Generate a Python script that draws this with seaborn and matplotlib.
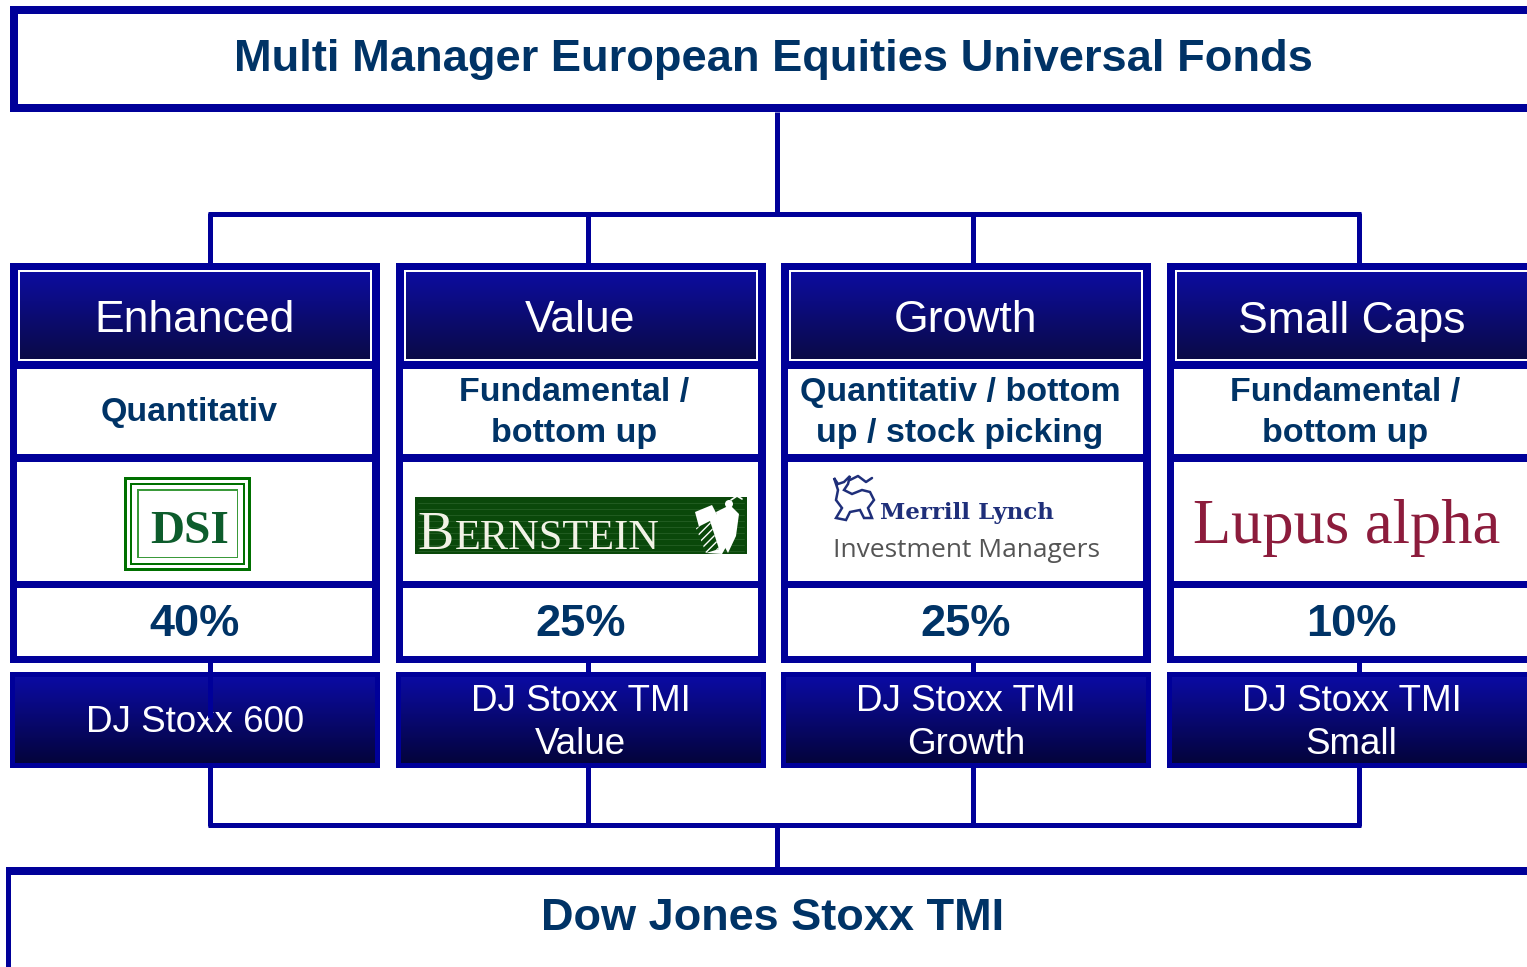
import numpy as np
import matplotlib
matplotlib.use("Agg")
import matplotlib.pyplot as plt
import seaborn as sns
from matplotlib.patches import Rectangle, Polygon, Circle

# ---------------- data ----------------
title = "Multi Manager European Equities Universal Fonds"
footer = "Dow Jones Stoxx TMI"
styles = ["Enhanced", "Value", "Growth", "Small Caps"]
approaches = ["Quantitativ", "Fundamental /\nbottom up",
              "Quantitativ / bottom\nup / stock picking", "Fundamental /\nbottom up"]
managers = ["DSI", "Bernstein", "Merrill Lynch Investment Managers", "Lupus alpha"]
weights = [40, 25, 25, 10]
benchmarks = ["DJ Stoxx 600", "DJ Stoxx TMI\nValue", "DJ Stoxx TMI\nGrowth", "DJ Stoxx TMI\nSmall"]

sns.set_theme(style="white")
plt.rcParams['font.family'] = ['Liberation Sans', 'DejaVu Sans']

BLUE = "#000099"
NAVY = "#003366"
W, H = 1527, 967

fig = plt.figure(figsize=(W / 100, H / 100), dpi=100)
ax = fig.add_axes([0, 0, 1, 1])
ax.set_xlim(0, W)
ax.set_ylim(H, 0)
ax.axis("off")

def rect(x0, y0, x1, y1, color, z=2, **kw):
    ax.add_patch(Rectangle((x0, y0), x1 - x0, y1 - y0, facecolor=color,
                           edgecolor="none", zorder=z, **kw))

def gradient(x0, y0, x1, y1, top, bottom, z=3):
    c1 = np.array(matplotlib.colors.to_rgb(top))
    c2 = np.array(matplotlib.colors.to_rgb(bottom))
    t = np.linspace(0, 1, 64)[:, None, None]
    img = c1 * (1 - t) + c2 * t
    ax.imshow(img, extent=(x0, x1, y1, y0), aspect="auto", origin="upper",
              interpolation="bilinear", zorder=z)

LW = 3.6  # ~5 px connector lines

def line(xs, ys, z=1):
    ax.plot(xs, ys, color=BLUE, lw=LW, solid_capstyle="butt", zorder=z)

# ---------------- top and bottom boxes ----------------
rect(10, 6, 1560, 112, BLUE)
rect(18, 14, 1560, 104, "white", z=2.5)
ax.text(773, 60, title, ha="center", va="center", fontsize=32.6,
        fontweight="bold", color=NAVY, zorder=5)

rect(6, 867, 1560, 990, BLUE)
rect(11, 875, 1560, 990, "white", z=2.5)
ax.text(773, 918, footer, ha="center", va="center", fontsize=32.5,
        fontweight="bold", color=NAVY, zorder=5)

# ---------------- connectors ----------------
conn_x = [210, 588, 973, 1359]
line([777, 777], [112, 213])
line([conn_x[0] - 2, conn_x[-1] + 2], [213.5, 213.5])
line([777, 777], [825, 868])
line([conn_x[0] - 2, conn_x[-1] + 2], [825, 825])
for cx in conn_x:
    line([cx, cx], [213, 264])
    line([cx, cx], [660, 675])
    line([cx, cx], [766, 826])
# artefact: first connector runs over the first benchmark box
line([conn_x[0], conn_x[0]], [663, 718], z=6)

# ---------------- columns ----------------
pitch = 385.5
col_w = 370
for i in range(4):
    L = 10 + i * pitch
    cx = L + col_w / 2
    # outer frame
    rect(L, 263, L + col_w, 663, BLUE)
    # header
    rect(L + 8, 270, L + 362, 361, "white", z=2.5)
    gradient(L + 10, 272, L + 360, 359, "#0d0d9e", "#0a0a48")
    ax.text(cx, 321, styles[i], ha="center", va="center", fontsize=32,
            color="white", zorder=5)
    # approach
    rect(L + 7, 369, L + 362, 454, "white", z=2.5)
    ax.text(cx - 6, 413, approaches[i], ha="center", va="center", fontsize=24.5,
            fontweight="bold", color=NAVY, linespacing=1.45, zorder=5)
    # logo cell
    rect(L + 7, 462, L + 362, 581, "white", z=2.5)
    # weight
    rect(L + 7, 588, L + 362, 656, "white", z=2.5)
    ax.text(cx, 625, f"{weights[i]}%", ha="center", va="center", fontsize=32.5,
            fontweight="bold", color=NAVY, zorder=5)
    # benchmark
    rect(L, 672, L + col_w, 768, BLUE)
    gradient(L + 5, 677, L + col_w - 5, 763, "#0b0ba2", "#04043c")
    ax.text(cx, 723, benchmarks[i], ha="center", va="center", fontsize=26.5,
            color="white", linespacing=1.3, zorder=5)

# ---------------- manager logos ----------------
# DSI
rect(124, 477, 251, 571, "#007000", z=4)
rect(127, 480, 248, 568, "white", z=4.1)
rect(130, 483, 245, 565, "#007000", z=4.2)
rect(132, 485, 243, 563, "white", z=4.3)
rect(137, 489, 238, 558, "#3a9a3a", z=4.4)
rect(138.5, 490.5, 236.5, 556.5, "white", z=4.5)
ax.text(190, 543, managers[0], ha="center", va="baseline", fontsize=34,
        fontweight="bold", family="Liberation Serif", color="#0d5c2c", zorder=5)

# Bernstein
rect(415, 497, 747, 554, "#0a480a", z=4)
for yy in np.arange(503, 552, 6):
    ax.plot([418, 744], [yy, yy], color="#2a642a", lw=0.5, zorder=4.1)
ax.text(417, 549, managers[1][0].upper(), ha="left", va="baseline", fontsize=39,
        family="Liberation Serif", color="#f2f2e6", zorder=5)
ax.text(455, 549, managers[1][1:].upper(), ha="left", va="baseline", fontsize=30.5,
        family="Liberation Serif", color="#f2f2e6", zorder=5)
# bee-like emblem
ax.add_patch(Polygon([[695, 512], [712, 505], [730, 540], [722, 554], [706, 553]],
                     closed=True, facecolor="white", edgecolor="none", zorder=5))
ax.add_patch(Polygon([[696, 528], [710, 521], [719, 549], [706, 553]],
                     closed=True, facecolor="#0a480a", edgecolor="white", lw=0,
                     hatch="////", zorder=5.1))
ax.add_patch(Polygon([[716, 512], [730, 505], [739, 514], [736, 536], [728, 553], [721, 540]],
                     closed=True, facecolor="white", edgecolor="none", zorder=5))
ax.add_patch(Circle((729, 504), 4, facecolor="white", edgecolor="none", zorder=5))
ax.plot([731, 737, 742], [500, 496, 499], color="white", lw=1.2, zorder=5)

# Merrill Lynch
bull = [[834, 478], [838, 484], [844, 482], [850, 476], [848, 484], [844, 490],
        [852, 494], [862, 490], [870, 492], [874, 500], [868, 508], [872, 518],
        [864, 518], [860, 510], [850, 512], [846, 520], [836, 518], [842, 508],
        [836, 500], [838, 490]]
ax.add_patch(Polygon(bull, closed=True, facecolor="white", edgecolor="#1f2f7a",
                     lw=1.8, zorder=5))
ax.plot([850, 858, 866, 872], [480, 476, 482, 478], color="#1f2f7a", lw=1.8, zorder=5)
name = managers[2].split(" ")
ax.text(880, 519, " ".join(name[:2]), ha="left", va="baseline", fontsize=16.5,
        fontweight="heavy", family="DejaVu Serif", color="#1f2f7a", zorder=5)
ax.text(833, 557, " ".join(name[2:]), ha="left", va="baseline", fontsize=19,
        family="Open Sans", color="#555555", zorder=5)

# Lupus alpha
ax.text(1347, 543, managers[3], ha="center", va="baseline", fontsize=45,
        family="Liberation Serif", color="#8c1c3c", zorder=5)

fig.savefig("out.png", dpi=100)
